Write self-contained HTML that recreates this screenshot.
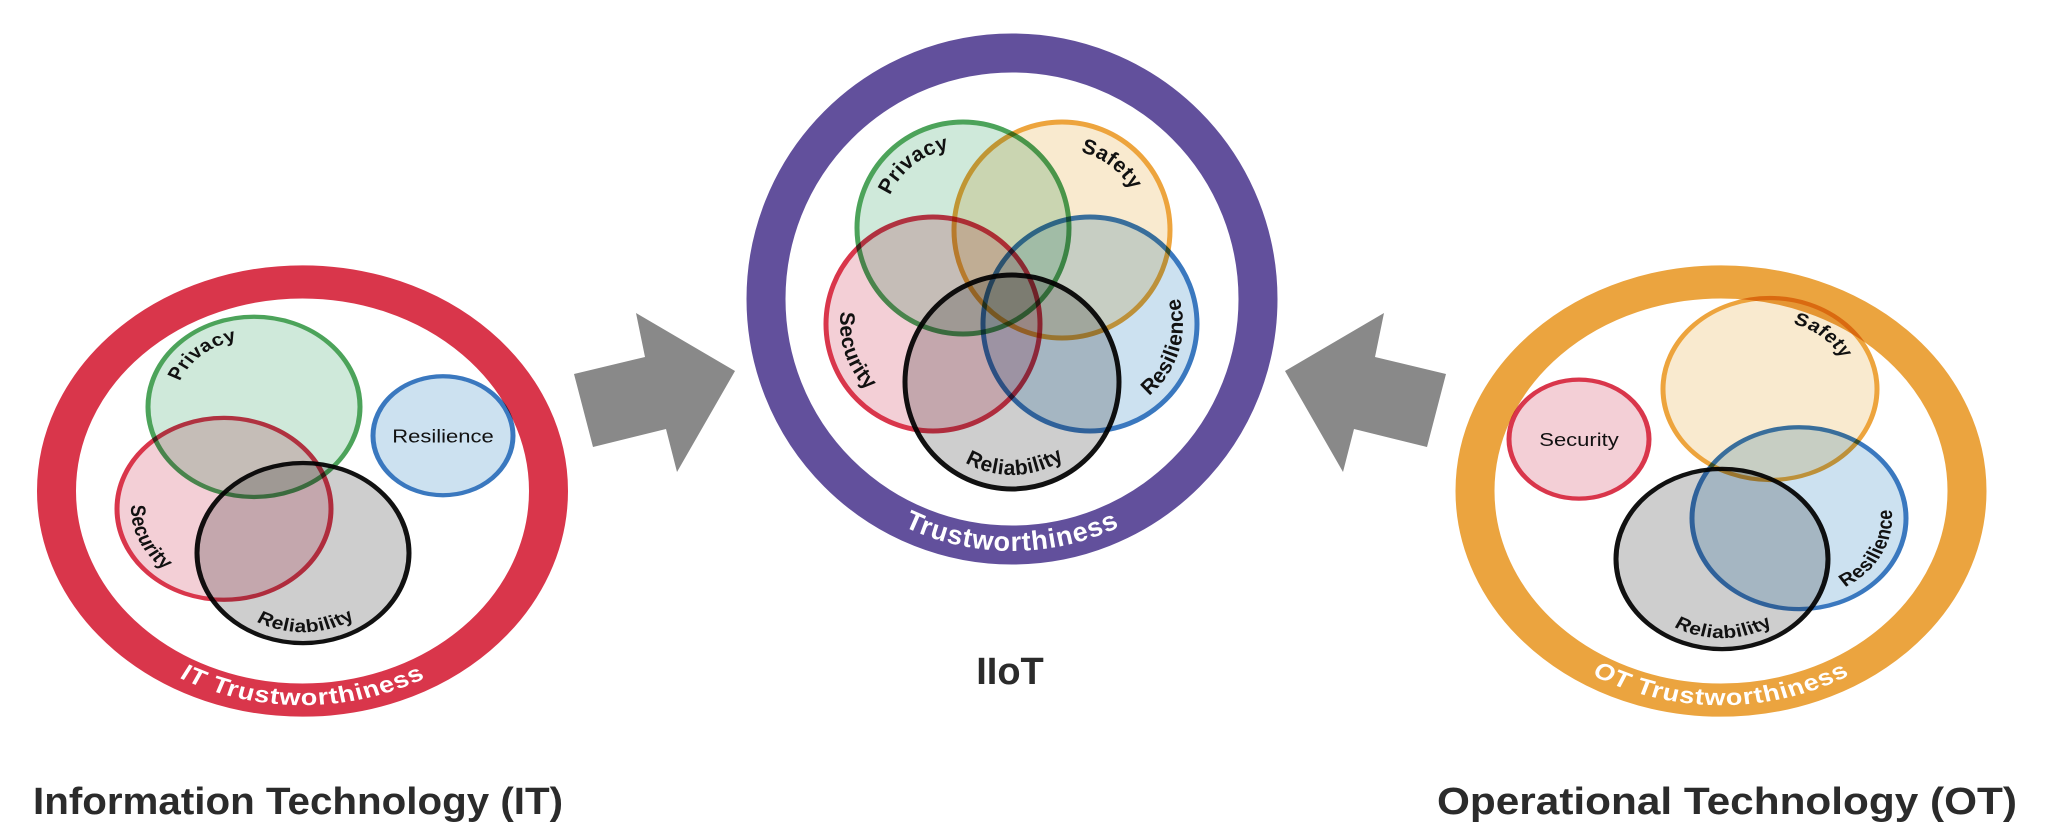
<!DOCTYPE html>
<html><head><meta charset="utf-8"><style>
html,body{margin:0;padding:0;background:#fff;}
svg{display:block;}
.lbl{font-family:"Liberation Sans",sans-serif;font-weight:bold;font-size:21px;fill:#111;letter-spacing:0.5px;}
.ring{font-family:"Liberation Sans",sans-serif;font-weight:bold;font-size:27px;fill:#fff;letter-spacing:1px;}
.title{font-family:"Liberation Sans",sans-serif;font-weight:bold;font-size:38px;fill:#2b2b2b;}
.plain{font-family:"Liberation Sans",sans-serif;font-size:22px;fill:#111;}
.v circle{mix-blend-mode:multiply;}
</style></head><body>
<svg width="2048" height="838" viewBox="0 0 2048 838" xmlns="http://www.w3.org/2000/svg">
<defs>
<path id="itP" d="M175.2,446.9 A80,80 0 0 1 281.4,357.8"/>
<path id="itS" d="M148.8,498.3 A93,93 0 0 0 214.3,645.5"/>
<path id="itR" d="M224.1,654.3 A93,93 0 0 0 385.1,648.7"/>
<path id="itT" d="M84.3,658 A252,252 0 0 0 520.7,658"/>
<path id="puP" d="M883.8,239.1 A80,80 0 0 1 993,153.8"/>
<path id="puSa" d="M1030.7,156.3 A80,80 0 0 1 1141.4,239.8"/>
<path id="puS" d="M862.8,263 A93,93 0 0 0 915.3,415.3"/>
<path id="puRe" d="M1110.9,414.6 A93,93 0 0 0 1158,260.6"/>
<path id="puR" d="M933.1,431.3 A93,93 0 0 0 1094.1,425.6"/>
<path id="puT" d="M793.8,425 A252,252 0 0 0 1230.2,425"/>
<path id="otSa" d="M1742.6,336.8 A80,80 0 0 1 1848.8,425.9"/>
<path id="otRe" d="M1803.9,656.9 A93,93 0 0 0 1877,513.3"/>
<path id="otR" d="M1642.3,659.9 A93,93 0 0 0 1803.4,657.1"/>
<path id="otT" d="M1502.8,658 A252,252 0 0 0 1939.2,658"/>
</defs>

<polygon points="574,374 645,357 636,313 735,371 677,472 666,429 593,447" fill="#898989"/>
<polygon points="1446,374 1375,357 1384,313 1285,371 1343,472 1354,429 1427,447" fill="#898989"/>

<g transform="translate(0,491) scale(1,0.85) translate(0,-532)">
<circle cx="302.5" cy="532" r="246" fill="none" stroke="#d9364b" stroke-width="39"/>
<g class="v" stroke-width="5" fill-opacity="0.72">
<circle cx="254" cy="433" r="106" fill="#bde0cc" stroke="#4ca35a"/>
<circle cx="303" cy="605" r="106" fill="#bbbbbb" stroke="#111"/>
<circle cx="224" cy="553" r="107" fill="#efbcc6" stroke="#d9364b"/>
<circle cx="443" cy="467" r="70" fill="#b8d5ea" stroke="#3a78bf"/>
</g>
<text class="lbl"><textPath href="#itP" startOffset="50%" text-anchor="middle">Privacy</textPath></text>
<text class="lbl"><textPath href="#itS" startOffset="50%" text-anchor="middle">Security</textPath></text>
<text class="lbl"><textPath href="#itR" startOffset="50%" text-anchor="middle">Reliability</textPath></text>
<text class="plain" x="443" y="475" text-anchor="middle">Resilience</text>
<text class="ring"><textPath href="#itT" startOffset="50%" text-anchor="middle">IT Trustworthiness</textPath></text>
</g>

<circle cx="1012" cy="299" r="246" fill="none" stroke="#62509c" stroke-width="39"/>
<g class="v" stroke-width="5" fill-opacity="0.72">
<circle cx="963" cy="228" r="106" fill="#bde0cc" stroke="#4ca35a"/>
<circle cx="933" cy="324" r="107" fill="#efbcc6" stroke="#d9364b"/>
<circle cx="1012" cy="382" r="107" fill="#bbbbbb" stroke="#111"/>
<circle cx="1090" cy="324" r="107" fill="#b8d5ea" stroke="#3a78bf"/>
<circle cx="1062" cy="230" r="108" fill="#f7e2bd" stroke="#eda43d"/>
</g>
<text class="lbl"><textPath href="#puP" startOffset="50%" text-anchor="middle">Privacy</textPath></text>
<text class="lbl"><textPath href="#puSa" startOffset="50%" text-anchor="middle">Safety</textPath></text>
<text class="lbl"><textPath href="#puS" startOffset="50%" text-anchor="middle">Security</textPath></text>
<text class="lbl"><textPath href="#puRe" startOffset="50%" text-anchor="middle">Resilience</textPath></text>
<text class="lbl"><textPath href="#puR" startOffset="50%" text-anchor="middle">Reliability</textPath></text>
<text class="ring"><textPath href="#puT" startOffset="50%" text-anchor="middle">Trustworthiness</textPath></text>

<g transform="translate(0,491) scale(1,0.85) translate(0,-532)">
<circle cx="1721" cy="532" r="246" fill="none" stroke="#eba43f" stroke-width="39"/>
<g class="v" stroke-width="5" fill-opacity="0.72">
<circle cx="1579" cy="471" r="70" fill="#efbcc6" stroke="#d9364b"/>
<circle cx="1722" cy="612" r="106" fill="#bbbbbb" stroke="#111"/>
<circle cx="1799" cy="564" r="107" fill="#b8d5ea" stroke="#3a78bf"/>
<circle cx="1770" cy="412" r="107" fill="#f7e2bd" stroke="#eda43d"/>
</g>
<text class="plain" x="1579" y="479" text-anchor="middle">Security</text>
<text class="lbl"><textPath href="#otSa" startOffset="50%" text-anchor="middle">Safety</textPath></text>
<text class="lbl"><textPath href="#otRe" startOffset="50%" text-anchor="middle">Resilience</textPath></text>
<text class="lbl"><textPath href="#otR" startOffset="50%" text-anchor="middle">Reliability</textPath></text>
<text class="ring"><textPath href="#otT" startOffset="50%" text-anchor="middle">OT Trustworthiness</textPath></text>
</g>

<text class="title" x="33" y="814" textLength="530" lengthAdjust="spacingAndGlyphs">Information Technology (IT)</text>
<text class="title" x="1010" y="684" text-anchor="middle">IIoT</text>
<text class="title" x="1437" y="814" textLength="580" lengthAdjust="spacingAndGlyphs">Operational Technology (OT)</text>
</svg>
</body></html>
